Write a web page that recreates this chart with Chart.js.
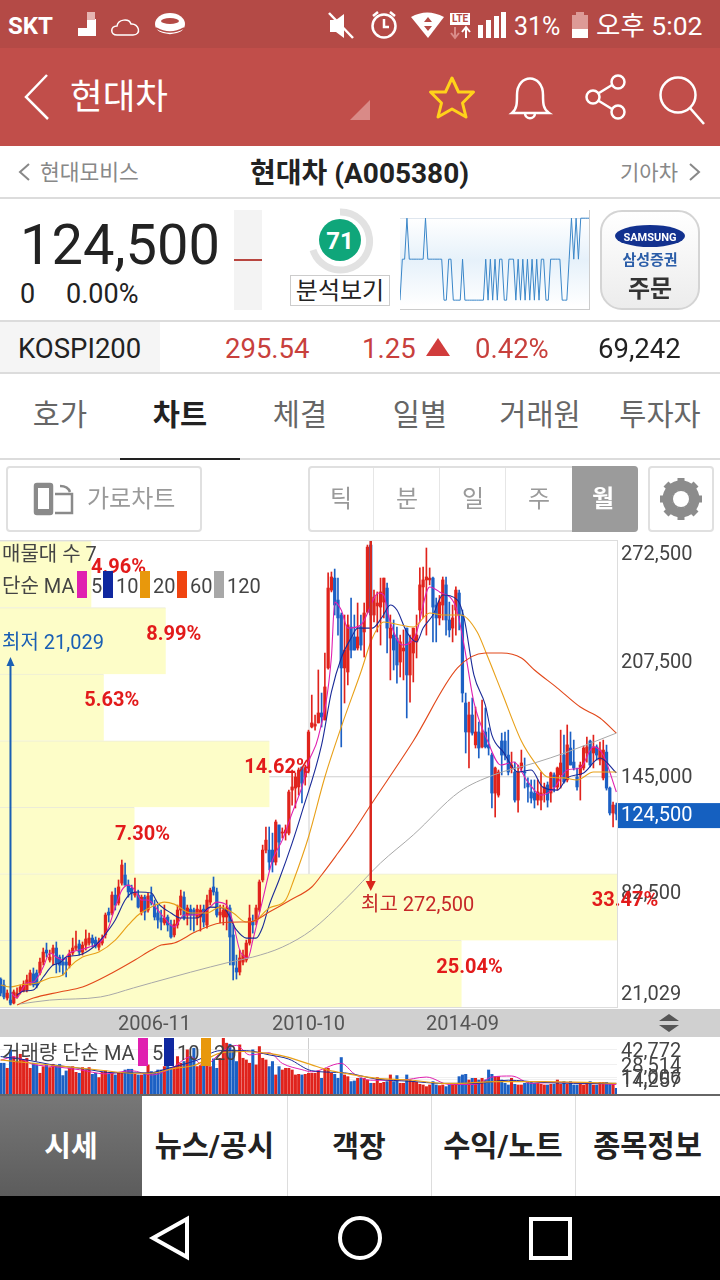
<!DOCTYPE html>
<html lang="ko">
<head>
<meta charset="utf-8">
<title>현대차 (A005380)</title>
<script src="https://cdn.jsdelivr.net/npm/chart.js@4"></script>
<style>
html,body{margin:0;padding:0;background:#fff;}
#app{position:relative;width:720px;height:1280px;overflow:hidden;background:#fff;font-family:Roboto,"Noto Sans CJK KR",sans-serif;color:#222;}
.b{position:absolute;box-sizing:border-box;}
.t{position:absolute;white-space:nowrap;transform:translateY(calc(-50% + 1px));line-height:1;}
.c{text-align:center;}
canvas{position:absolute;display:block;}
svg{position:absolute;overflow:visible;}
</style>
</head>
<body>
<div id="app">
  <!-- status bar -->
  <div class="b" style="left:0;top:0;width:720px;height:48px;background:#b44a46"></div>
  <div class="b" style="left:0;top:48px;width:720px;height:98px;background:#c14e4a"></div>
  <div class="t" style="left:8px;top:25px;font-size:24px;font-weight:700;color:#fff">SKT</div>
  <svg style="left:0;top:0" width="720" height="146" fill="none" stroke="#fff">
    <path d="M69 36h9v-8h9v-9h9v17z" fill="#fff" stroke="none"/>
    <rect x="87" y="12" width="8" height="8" fill="#e6b5b2" stroke="none"/>
    <path d="M117 35c-7 0-7-9 0-9 1-7 12-8 14-2 8-1 11 11 2 11z" stroke-width="1.5"/>
    <ellipse cx="170" cy="24" rx="15" ry="11" fill="#fff" stroke="none"/>
    <ellipse cx="170" cy="21" rx="9" ry="3" fill="#b44a46" stroke="none"/>
    <path d="M156 28q14 8 28 0M158 32q12 6 24 0" stroke="#b44a46" stroke-width="1.5"/>
    <path d="M330 20h6l8-6v24l-8-6h-6z" fill="#fff" stroke="none"/>
    <path d="M329 13l24 25" stroke-width="2.5"/>
    <circle cx="384" cy="26" r="11.5" stroke-width="2.5"/>
    <path d="M384 19v8h5M373 16l5-4M395 16l-5-4" stroke-width="2.5"/>
    <path d="M411 17q16-9 33 0l-16 21z" fill="#fff" stroke="none"/>
    <path d="M424 22l4-5 4 5zM424 26l4 5 4-5z" fill="#b44a46" stroke="none"/>
    <rect x="450" y="13" width="20" height="12" fill="#fff" stroke="none"/>
    <path d="M455 27v10M451 33l4 5 4-5" stroke="#d98b88" stroke-width="2"/>
    <path d="M466 38v-10M462 32l4-5 4 5" stroke-width="2"/>
    <path d="M478 38v-13h5v13zM486 38v-18h5v18zM494 38v-22h5v22zM501 38v-26h5v26z" fill="#fff" stroke="none"/>
    <rect x="572" y="15" width="16" height="23" fill="#dd9a97" stroke="none"/>
    <rect x="576" y="12" width="8" height="3" fill="#dd9a97" stroke="none"/>
    <rect x="572" y="29" width="16" height="9" fill="#fff" stroke="none"/>
    <!-- app bar icons -->
    <path d="M47 75L26 97l22 22" stroke-width="2.5"/>
    <path d="M350 120h20v-20z" fill="#d98a87" stroke="none"/>
    <path d="M452 78l6.500 14h15l-11 11 3.500 14-14-8-14 8 3.500-14-11-11h15z" stroke="#ffd21a" stroke-width="3" stroke-linejoin="round"/>
    <path d="M512 113c5-4 5-10 5-18 0-22 26-22 26 0 0 8 0 14 6 18zM525 113c0 7 10 7 10 0" stroke-width="2.500"/>
    <circle cx="618" cy="82" r="6.500" stroke-width="2.500"/><circle cx="593" cy="97" r="6.500" stroke-width="2.500"/><circle cx="618" cy="112" r="6.500" stroke-width="2.500"/>
    <path d="M599 93l13-8M599 101l13 8" stroke-width="2.500"/>
    <circle cx="678" cy="95" r="17.500" stroke-width="2.500"/>
    <path d="M690 108l14 16" stroke-width="2.500"/>
  </svg>
  <div class="t" style="left:450px;width:20px;text-align:center;top:18px;font-size:10px;font-weight:700;color:#b44a46">LTE</div>
  <div class="t" style="left:514px;top:25px;font-size:25px;color:#fff">31%</div>
  <div class="t" style="left:596px;top:25px;font-size:26.500px;color:#fff">오후 5:02</div>
  <div class="t" style="left:70px;top:97px;font-size:35.500px;color:#fff">현대차</div>

  <!-- stock name row -->
  <svg style="left:0;top:0" width="720" height="200" fill="none" stroke="#888" stroke-width="2">
    <path d="M29 164l-9 8 9 8M690 164l9 8-9 8"/>
  </svg>
  <div class="t" style="left:40px;top:172px;font-size:21.500px;color:#888">현대모비스</div>
  <div class="t" style="left:250px;top:173px;font-size:28px;font-weight:700;color:#222">현대차 (A005380)</div>
  <div class="t" style="left:620px;top:172px;font-size:21px;color:#888">기아차</div>
  <div class="b" style="left:0;top:197px;width:720px;height:2px;background:#dcdcdc"></div>

  <!-- price row -->
  <div class="t" style="left:20px;top:244px;font-size:56px;color:#222">124,500</div>
  <div class="t" style="left:20px;top:293px;font-size:27px;color:#222">0</div>
  <div class="t" style="left:66px;top:293px;font-size:27px;color:#222">0.00%</div>
  <div class="b" style="left:234px;top:210px;width:28px;height:100px;background:#f3f3f3"></div>
  <div class="b" style="left:234px;top:259px;width:28px;height:2px;background:#b8453f"></div>
  <svg style="left:0;top:0" width="720" height="320" fill="none">
    <path d="M340 212a29 29 0 1 1 -27 38" stroke="#e2e2e2" stroke-width="7"/>
    <circle cx="340" cy="240" r="21" fill="#0fa67a"/>
  </svg>
  <div class="t c" style="left:320px;width:40px;top:240px;font-size:24px;font-weight:700;color:#fff">71</div>
  <div class="b" style="left:290px;top:275px;width:100px;height:31px;border:1px solid #ccc"></div>
  <div class="t c" style="left:290px;width:100px;top:290px;font-size:24px;color:#222">분석보기</div>
  <canvas id="sparkChart" width="190" height="100" style="left:400px;top:210px;width:190px;height:100px;background:linear-gradient(#fff 8%,#e6f1fa 50%,#fff 96%)"></canvas>
  <div class="b" style="left:400px;top:210px;width:190px;height:100px;border-right:1px solid #ccc;border-bottom:1px solid #ccc"></div>
  <div class="b" style="left:600px;top:210px;width:100px;height:100px;border:2px solid #d4d4d4;border-radius:22px;background:linear-gradient(#fff,#ececec)"></div>
  <svg style="left:0;top:0" width="720" height="320"><ellipse cx="650" cy="236" rx="35" ry="11" fill="#12318f"/></svg>
  <div class="t c" style="left:600px;width:100px;top:236px;font-size:11px;font-weight:700;color:#fff">SAMSUNG</div>
  <div class="t c" style="left:600px;width:100px;top:259px;font-size:15px;font-weight:700;color:#2a5da8">삼성증권</div>
  <div class="t c" style="left:600px;width:100px;top:288px;font-size:24px;font-weight:700;color:#333">주문</div>

  <!-- index row -->
  <div class="b" style="left:0;top:320px;width:720px;height:2px;background:#dcdcdc"></div>
  <div class="b" style="left:0;top:322px;width:160px;height:50px;background:#f5f5f5"></div>
  <div class="b" style="left:0;top:372px;width:720px;height:2px;background:#dcdcdc"></div>
  <div class="t" style="left:18px;top:348px;font-size:27.500px;color:#222">KOSPI200</div>
  <div class="t" style="left:225px;top:348px;font-size:27.500px;color:#c8403c">295.54</div>
  <div class="t" style="left:362px;top:348px;font-size:27.500px;color:#c8403c">1.25</div>
  <svg style="left:0;top:0" width="720" height="380"><path d="M426 356l12-18 12 18z" fill="#d13c3c"/></svg>
  <div class="t" style="left:475px;top:348px;font-size:27.500px;color:#c8403c">0.42%</div>
  <div class="t" style="left:598px;top:348px;font-size:27.500px;color:#222">69,242</div>

  <!-- tabs -->
  <div class="t c" style="left:0;width:120px;top:415px;font-size:29.500px;color:#666">호가</div>
  <div class="t c" style="left:120px;width:120px;top:415px;font-size:29.500px;font-weight:700;color:#222">차트</div>
  <div class="t c" style="left:240px;width:120px;top:415px;font-size:29.500px;color:#666">체결</div>
  <div class="t c" style="left:360px;width:120px;top:415px;font-size:29.500px;color:#666">일별</div>
  <div class="t c" style="left:480px;width:120px;top:415px;font-size:29.500px;color:#666">거래원</div>
  <div class="t c" style="left:600px;width:120px;top:415px;font-size:29.500px;color:#666">투자자</div>
  <div class="b" style="left:0;top:458px;width:720px;height:2px;background:#dcdcdc"></div>
  <div class="b" style="left:120px;top:458px;width:120px;height:2px;background:#222"></div>

  <!-- chart toolbar -->
  <div class="b" style="left:6px;top:466px;width:196px;height:66px;border:2px solid #e0e0e0;border-radius:4px"></div>
  <svg style="left:0;top:0" width="720" height="540" fill="none" stroke="#8a8a8a" stroke-width="2.500">
    <rect x="35" y="484" width="17" height="30" rx="2" fill="#8a8a8a"/>
    <rect x="38" y="488" width="11" height="21" fill="#fff" stroke="none"/>
    <path d="M55 494h17v19H55M60 486q8 0 10 6"/>
  </svg>
  <div class="t" style="left:87px;top:498px;font-size:24px;color:#9a9a9a">가로차트</div>
  <div class="b" style="left:308px;top:466px;width:330px;height:66px;border:2px solid #e0e0e0;border-radius:4px"></div>
  <div class="b" style="left:373px;top:468px;width:1px;height:62px;background:#e6e6e6"></div>
  <div class="b" style="left:439px;top:468px;width:1px;height:62px;background:#e6e6e6"></div>
  <div class="b" style="left:505px;top:468px;width:1px;height:62px;background:#e6e6e6"></div>
  <div class="b" style="left:572px;top:466px;width:66px;height:66px;background:#9b9b9b;border-radius:0 4px 4px 0"></div>
  <div class="t c" style="left:308px;width:66px;top:498px;font-size:24px;color:#9a9a9a">틱</div>
  <div class="t c" style="left:374px;width:66px;top:498px;font-size:24px;color:#9a9a9a">분</div>
  <div class="t c" style="left:440px;width:66px;top:498px;font-size:24px;color:#9a9a9a">일</div>
  <div class="t c" style="left:506px;width:66px;top:498px;font-size:24px;color:#9a9a9a">주</div>
  <div class="t c" style="left:570px;width:66px;top:498px;font-size:24px;font-weight:700;color:#fff">월</div>
  <div class="b" style="left:648px;top:466px;width:66px;height:66px;border:2px solid #e0e0e0;border-radius:4px"></div>
  <svg style="left:0;top:0" width="720" height="540">
    <circle cx="681" cy="499" r="14" fill="none" stroke="#8c8c8c" stroke-width="9"/>
    <path d="M681 478v42M660 499h42M666 484l30 30M696 484l-30 30" stroke="#8c8c8c" stroke-width="7"/>
    <circle cx="681" cy="499" r="8" fill="#fff"/>
  </svg>

  <!-- chart panels -->
  <div class="b" style="left:0;top:1009px;width:720px;height:28px;background:#d0d0d0"></div>
  <canvas id="profileChart" width="617" height="466" style="left:0;top:541px;width:617px;height:466px"></canvas>
  <canvas id="priceChart" width="720" height="510" style="left:0;top:530px;width:720px;height:510px"></canvas>
  <canvas id="volumeChart" width="720" height="57" style="left:0;top:1038px;width:720px;height:57px"></canvas>
  <div class="b" style="left:0;top:540px;width:618px;height:468px;border-top:1px solid #ddd;border-right:1px solid #ddd;border-bottom:1px solid #ddd"></div>
  <svg style="left:0;top:0" width="720" height="1040"><path d="M659 1021l10-7 10 7zM659 1025l10 7 10-7z" fill="#555"/></svg>

  <!-- legends -->
  <div class="t" style="left:2px;top:553px;font-size:20px;color:#444">매물대 수 7</div>
  <div class="t" style="left:2px;top:585px;font-size:20px;color:#444">단순 MA</div>
  <div class="b" style="left:77px;top:571px;width:10px;height:27px;background:#e020b0"></div>
  <div class="t" style="left:91px;top:585px;font-size:20px;color:#444">5</div>
  <div class="b" style="left:103px;top:571px;width:10px;height:27px;background:#1028a0"></div>
  <div class="t" style="left:116px;top:585px;font-size:20px;color:#444">10</div>
  <div class="b" style="left:140px;top:571px;width:10px;height:27px;background:#e8980c"></div>
  <div class="t" style="left:153px;top:585px;font-size:20px;color:#444">20</div>
  <div class="b" style="left:177px;top:571px;width:10px;height:27px;background:#f04410"></div>
  <div class="t" style="left:190px;top:585px;font-size:20px;color:#444">60</div>
  <div class="b" style="left:214px;top:571px;width:10px;height:27px;background:#a8a8a8"></div>
  <div class="t" style="left:227px;top:585px;font-size:20px;color:#444">120</div>
  <div class="t" style="left:2px;top:1052px;font-size:20px;color:#444">거래량 단순 MA</div>
  <div class="b" style="left:138px;top:1038px;width:10px;height:28px;background:#e020b0"></div>
  <div class="t" style="left:152px;top:1052px;font-size:20px;color:#444">5</div>
  <div class="b" style="left:164px;top:1038px;width:10px;height:28px;background:#1028a0"></div>
  <div class="t" style="left:177px;top:1052px;font-size:20px;color:#444">10</div>
  <div class="b" style="left:201px;top:1038px;width:10px;height:28px;background:#e8980c"></div>
  <div class="t" style="left:214px;top:1052px;font-size:20px;color:#444">20</div>

  <!-- bottom tabs and nav -->
  <div class="b" style="left:0;top:1094px;width:720px;height:2px;background:#666"></div>
  <div class="b" style="left:0;top:1096px;width:142px;height:100px;background:linear-gradient(#777,#5c5c5c)"></div>
  <div class="b" style="left:287px;top:1096px;width:1px;height:100px;background:#ddd"></div>
  <div class="b" style="left:431px;top:1096px;width:1px;height:100px;background:#ddd"></div>
  <div class="b" style="left:575px;top:1096px;width:1px;height:100px;background:#ddd"></div>
  <div class="t c" style="left:0;width:142px;top:1146px;font-size:29px;font-weight:700;color:#fff">시세</div>
  <div class="t c" style="left:142px;width:145px;top:1146px;font-size:29.500px;font-weight:700;color:#222">뉴스/공시</div>
  <div class="t c" style="left:287px;width:144px;top:1146px;font-size:29px;font-weight:700;color:#222">객장</div>
  <div class="t c" style="left:431px;width:144px;top:1146px;font-size:29.500px;font-weight:700;color:#222">수익/노트</div>
  <div class="t c" style="left:575px;width:145px;top:1146px;font-size:29.500px;font-weight:700;color:#222">종목정보</div>
  <div class="b" style="left:0;top:1196px;width:720px;height:84px;background:#000"></div>
  <svg style="left:0;top:0" width="720" height="1280" fill="none" stroke="#fff" stroke-width="4">
    <path d="M187 1219v38l-34-19z"/>
    <circle cx="360" cy="1238" r="20"/>
    <rect x="531" y="1219" width="39" height="39"/>
  </svg>
</div>

<script>
// monthly candles, prices in thousand won
const opens = [
  35.1,31.9,24.8,23.7,22.1,25.9,28.1,28.6,29.2,31.9,
  37.9,38.4,38.4,44.3,50.8,45.4,49.2,51.9,47.0,44.3,
  44.3,42.7,49.2,51.9,54.1,49.7,53.5,54.6,57.3,56.2,
  52.4,54.6,59.0,71.4,70.9,80.6,76.3,87.1,91.5,86.0,
  84.4,80.6,80.6,71.4,79.5,72.5,80.6,75.2,70.9,68.2,
  65.5,68.7,64.4,59.0,64.4,72.5,79.5,69.8,73.0,72.5,
  68.2,68.7,73.0,64.4,76.8,85.0,82.3,69.8,68.7,68.7,
  73.6,59.0,41.1,38.9,44.3,45.4,54.6,66.0,67.1,72.5,
  88.8,105.0,105.0,105.0,98.5,118.6,114.2,114.2,114.2,137.5,
  138.6,139.2,150.0,144.6,149.5,171.7,172.2,173.9,179.3,175.5,
  203.7,245.9,252.4,240.5,232.4,203.7,201.5,225.9,220.5,214.5,
  225.9,223.2,234.0,270.3,232.4,237.3,236.7,239.4,247.0,219.9,
  221.5,219.9,206.9,212.9,225.3,199.9,211.8,217.8,235.1,247.6,
  251.4,251.4,252.4,237.8,230.8,237.8,248.7,229.7,225.3,235.1,
  244.3,232.4,184.7,169.0,178.2,162.0,169.0,160.9,169.0,162.0,
  156.5,135.9,134.8,164.1,164.1,156.5,149.5,147.3,132.1,149.5,
  147.3,141.3,136.5,135.9,132.1,132.1,135.9,140.3,135.9,145.7,
  139.2,145.7,156.5,143.0,160.3,152.7,144.6,145.7,149.5,157.6,
  164.1,157.6,160.9,153.8,144.1,158.1,138.6,125.1,129.4
];
const highs = [
  35.7,34.6,29.2,26.5,29.2,30.3,31.9,34.1,37.3,40.0,
  41.1,40.0,46.5,51.9,54.6,50.8,53.5,55.2,48.1,48.1,
  46.5,50.8,57.3,61.1,56.2,55.2,61.7,60.0,59.0,57.9,
  57.3,59.0,70.9,73.6,82.3,84.4,88.8,99.6,98.0,88.8,
  86.0,89.8,83.3,80.6,80.6,81.7,85.0,77.9,75.2,72.5,
  75.2,69.8,67.1,67.1,75.2,83.3,82.3,75.2,75.2,73.6,
  75.2,75.2,75.2,80.6,84.4,90.4,84.4,75.2,75.2,77.9,
  75.2,64.4,48.1,50.8,50.8,56.2,75.2,69.8,75.2,88.8,
  107.7,117.5,117.5,114.2,121.3,118.6,117.0,118.6,137.5,148.4,
  146.8,149.5,150.0,151.1,170.0,189.0,178.2,202.6,190.1,211.8,
  255.2,255.7,257.3,252.4,233.5,232.4,232.4,241.6,232.4,238.9,
  232.4,238.9,270.3,272.5,245.9,244.9,252.4,252.4,249.7,232.4,
  229.7,225.9,221.5,224.3,225.3,221.5,225.3,232.4,257.9,258.4,
  268.7,257.9,253.0,241.6,243.0,253.0,253.0,239.4,237.8,247.6,
  245.9,235.1,190.1,185.2,187.4,182.5,174.4,186.3,182.0,171.2,
  157.6,150.0,148.4,168.4,169.0,170.0,158.1,152.7,151.1,159.2,
  154.9,144.1,143.0,143.0,143.0,147.3,141.3,141.9,147.3,146.8,
  150.0,170.0,167.3,172.8,169.0,164.6,149.5,152.7,161.4,166.3,
  164.6,167.3,162.0,163.5,164.6,161.9,139.2,131.0,130.5
];
const lows = [
  25.9,24.3,23.7,21.03,21.6,24.8,27.0,28.1,28.1,31.9,
  30.8,30.3,37.3,42.7,47.0,44.3,42.7,38.4,38.9,37.3,
  36.2,41.1,48.1,50.8,48.1,48.1,50.8,53.5,52.4,51.9,
  50.8,53.5,57.3,66.0,69.8,72.5,75.2,86.0,86.0,79.5,
  77.9,79.5,73.6,69.8,67.1,71.4,75.2,67.1,62.7,61.7,
  64.4,61.1,57.3,57.9,62.7,69.8,67.1,64.4,61.7,61.1,
  64.4,61.1,63.3,62.7,75.2,80.6,68.7,65.5,64.4,61.7,
  42.7,34.6,35.1,37.3,42.7,44.3,53.5,60.0,64.4,71.4,
  87.7,103.4,94.2,93.1,96.9,101.2,111.5,110.4,113.2,129.4,
  127.8,134.8,130.5,140.2,146.8,171.2,170.0,173.9,171.7,175.5,
  203.1,244.9,232.4,221.5,160.9,184.7,194.5,209.1,213.4,213.4,
  213.4,209.6,233.5,229.7,228.6,223.2,216.1,230.8,211.8,197.2,
  202.6,195.5,198.8,197.2,176.6,185.2,196.1,209.1,228.6,230.8,
  221.5,248.7,217.8,217.8,227.0,229.7,221.5,220.5,217.8,221.5,
  224.3,185.2,157.6,149.5,167.3,160.3,154.9,160.3,160.3,156.5,
  127.8,122.9,133.7,145.7,153.8,145.7,146.8,131.0,125.6,147.3,
  138.6,131.0,130.5,127.8,129.4,126.7,131.0,128.3,131.0,136.5,
  137.5,138.6,141.3,141.9,151.1,148.4,137.5,132.1,148.4,152.7,
  150.0,149.5,153.8,151.1,143.0,137.5,124.0,117.5,121.3
];
const closes = [
  27.5,25.4,27.5,22.1,28.1,27.5,30.8,32.4,34.6,38.4,
  31.9,31.9,44.3,49.7,49.2,47.0,51.9,43.8,42.7,42.7,
  42.7,48.7,51.9,53.0,49.7,53.5,56.8,57.3,54.6,53.0,
  55.2,56.8,69.8,69.8,80.6,75.2,85.0,96.9,86.0,82.3,
  81.7,81.7,74.1,79.5,71.4,80.1,76.3,68.7,67.1,66.0,
  68.2,64.4,57.9,64.9,72.5,80.1,68.2,73.6,69.8,69.8,
  73.0,72.5,66.0,77.9,83.3,82.3,69.8,71.4,72.5,73.6,
  57.9,42.7,38.9,46.5,48.1,54.6,68.2,64.4,73.6,87.7,
  105.0,110.4,98.5,98.5,120.2,109.3,114.8,115.9,136.5,139.2,
  144.6,148.4,141.3,148.4,169.0,173.9,173.3,179.3,177.1,193.4,
  247.0,253.0,237.8,230.8,203.7,213.4,227.0,213.4,213.4,220.5,
  216.1,233.5,269.2,232.4,242.1,238.9,244.9,252.4,225.3,225.3,
  213.4,205.3,217.8,214.5,199.9,217.8,225.3,221.5,248.7,251.4,
  253.0,252.4,236.7,230.8,239.4,251.4,229.7,224.3,230.8,245.9,
  232.4,190.1,169.0,178.2,168.4,169.0,160.3,168.4,160.9,160.3,
  135.9,149.5,147.3,156.5,156.5,147.3,151.1,132.1,147.3,152.2,
  146.8,139.2,133.2,132.1,136.5,135.9,139.2,132.1,146.8,139.2,
  149.5,152.2,141.9,162.0,151.1,149.5,139.2,151.1,160.3,160.9,
  151.1,160.9,156.5,159.2,159.2,138.6,125.1,129.4,124.5
];

// moving averages, read at a few spots along each line
const ma5Index = [3,5,6,8,10,13,15,17,19,21,24,27,31,33,35,37,39,41,43,45,48,50,53,56,59,63,66,69,71,73,75.5,77,80,83,86,89,92,94,97,101,102,104,106,110,115.5,117,118.5,122.7,126.7,131,134,139,141.5,144.5,148.7,152.7,156.7,161,165,169,173,177,181,184,188];
const ma5Values = [28.1,24.8,27.5,33,33.5,41.6,49.2,47,45.4,49.2,50.8,52.4,56.2,63.3,74.1,83.3,86,83.3,77.9,77.9,72.5,68.2,63.3,69.8,69.8,72.5,76.8,75.2,65.5,50.8,46.5,56.2,77.9,99.6,110.4,125,139.2,152.7,166.3,209.6,239.4,235.1,225.3,227,244.3,243.2,231.3,216.1,221.5,247.6,244.9,236.7,216.1,185.2,164.1,151.1,152.7,141.9,134.8,138.6,148.4,149.5,160.9,156.5,136.5];
const ma10Index = [5,7,10,13,16,18,20,24,28,31,35,38,40,42,46,48,52,55,60,64,68,72,75,78,80,82,85,89,92,98,101,104,107,109,113.5,116.5,119,121,124,127,129,132,135,139.5,141.5,144.5,148,150,153.5,158,162,165.5,170,173,178,183,188];
const ma10Values = [26.5,28.6,29.2,36.2,42.7,43.8,47,48.1,51.9,57.3,67.1,77.9,81.7,82.3,81.7,76.3,70.9,68.2,68.2,74.1,73.6,61.7,57.3,57.3,63.3,75.2,88.8,108.8,125.6,162,190.7,209.1,219.9,225.3,225.3,231.3,237.8,235.1,223.2,217.8,225.3,232.4,243.2,240.5,230.8,199.9,183.6,167.3,158.1,147.3,148.4,139.2,137.5,144.1,146.8,154.9,146.8];
const ma20Index = [0,3,6,11,15,19,21,25,30,35,39,42,46,50,53,58,63,67,71,75,78,82,87,89.5,94,99,104,110,113.5,117,122,126,131,135,140.5,145.5,148.5,153,159,163,167,172,176,181,188];
const ma20Values = [31.9,30.8,31.9,33,35.7,37.3,41.6,47,49.7,56.2,64.4,69.8,74.1,76.8,75.7,70.9,70.9,74.1,70.9,66,67.1,73.6,77.9,88.8,112.1,144.6,171.7,201.5,219.9,228.6,227,225.9,233.5,232.4,232.4,223.2,210.7,190.7,164.1,152.7,144.6,144.1,143,147.3,147.3];
const ma60Index = [5,10,18,25,34,41,46,49,53,60,67,73,76,82,88.5,95,98,103,107,113,126,139.5,148,153,159,163,170,177,183,188];
const ma60Values = [21.03,24.8,28.1,30.8,38.4,45.4,50.8,53.5,54.6,61.1,65.5,66,66,71.4,77.9,85,91.5,103.4,113.2,129.4,164.1,203.7,211.8,211.8,209.1,202.6,192.8,182.5,176.6,168.4];
const ma120Index = [6,15,30.5,40.6,46,70,77,86,95,105,116,126,140,150.5,163,173,188];
const ma120Values = [21.6,23.7,25.4,30.3,33,44.3,47,52.4,61.7,77.9,98,113.2,136.5,145.7,152.2,158.1,168.4];

// volume in thousand shares
const volumes = [
  30.1,30.1,25.3,42.8,36.4,31.7,38.6,33.2,34.8,25.3,
  30.1,28.5,20.6,26.9,28.5,26,29.1,27.9,29.1,18.4,
  22.8,25.3,26.9,21.5,20.6,26,23.7,26,19.6,20.6,
  16.5,21.5,22.8,19.6,20.6,19,20.6,21.5,23.7,24.4,
  24.4,19.6,19,19,20.6,28.5,22.2,21.5,23.7,23.7,
  26.9,27.9,26,26.9,36.4,30.1,31.7,42.8,36.4,44.3,
  26.9,27.9,28.5,32.3,26.9,34.2,25.3,34.8,54.5,49.1,
  48.1,42.8,31.7,47.5,34.8,33.2,30.1,42.8,28.5,45.9,
  34.8,33.2,26.9,31.7,19,26.9,23.7,25.3,25.3,23.7,
  19,19.6,19,19.6,20.6,
  20.6,20.6,22.8,15.8,25.3,25.3,20.6,19.6,15.8,35.5,
  19,17.4,12.7,13.3,15.8,15.8,15.8,14.2,11.1,11.1,
  16.5,11.1,12,12.7,19,12.7,18.4,11.1,11.1,19,
  14.2,12.7,12,10.1,9.5,7.9,9.5,12.7,9.5,8.9,
  9.5,7.9,9.5,9.5,10.1,17.4,19,19.6,14.2,15.8,
  15.8,14.2,15.8,14.2,23.7,19.6,17.4,17.4,14.2,11.1,
  9.5,15.8,10.1,9.5,9.5,11.1,12.7,12,11.1,11.1,
  10.1,9.5,9.5,10.1,10.1,14.2,10.1,12.7,10.1,12.7,
  9.5,9.5,10.1,9.5,11.1,12.7,9.5,9.5,12,12,12,10.1,10.1,6.3
];
const volMa5Index = [0,4,10,16,24,32,40,46,52,58,62,68,72,76,82,86,92,95,104,108,113,122,130,137,145,150,156,162,170,180,188];
const volMa5Values = [33,36,29,27,24,20,23,19,25,36,28,42,47,38,40,30,24,22,30,20,14,14,17,10,10,17,18,11,12,11,10];
const volMa10Index = [0,8,15,25,35,45,52,60,67,75,82,88,95,105,115,125,135,145,155,165,175,188];
const volMa10Values = [36.4,33.2,29,25,21,21,26,33,42,42,38,34,23,21,15,13,11,11,14,12,11,11];
const volMa20Index = [0,10,20,30,41,46,53,59,67,74,81,87,95,100,105,115,125,135,140.5,151,166,188];
const volMa20Values = [33.2,30.1,26.9,23.7,20.6,20.6,25.3,27.9,39.6,41.2,39.6,36.4,28.5,23.7,20.6,15.8,14.2,11.1,11.1,12.7,12.7,11.1];

// volume profile, top band first
const profileBands = ['272,500','236,600','200,700','164,800','128,900','93,000','57,000'];
const profilePercents = [4.96,8.99,5.63,14.62,7.30,33.47,25.04];

const xTickIndex = [47,94,141];
const xTickLabels = ['2006-11','2010-10','2014-09'];
const yTickValues = [21.029,82.5,124.5,145,207.5,272.5];
const yTickLabels = ['21,029','82,500','124,500','145,000','207,500','272,500'];
const volTickValues = [14.257,17.006,28.514,42.772];
const volTickLabels = ['14,257','17,006','28,514','42,772'];

// intraday sparkline levels in the header
const sparkLevels = [0,1,1,2,1,1,1,1,1,1,1,2,1,1,1,1,1,1,1,0,0,1,1,0,0,0,0,1,0,0,0,0,0,0,0,0,0,1,0,1,0,1,0,1,1,0,0,1,1,1,0,1,0,1,0,1,0,1,0,1,0,1,1,0,0,1,1,1,1,1,0,0,0,1,2,1,2,1,2,2,2,2,2];

const RED = '#e0231c';
const BLUE = '#1c60c4';
const candleColors = closes.map((c, i) => c >= opens[i] ? RED : BLUE);
const xMax = 188.2;
const xMin = -0.2;

function toPoints(xs, ys) {
  return xs.map((x, i) => ({ x: x, y: ys[i] }));
}

function maLine(xs, ys, color, width) {
  return {
    type: 'line',
    data: toPoints(xs, ys),
    borderColor: color,
    borderWidth: width,
    pointRadius: 0,
    cubicInterpolationMode: 'monotone',
    order: 1
  };
}

function fitY(width) {
  return s => {
    s.width = width;
    s.paddingTop = 0;
    s.paddingBottom = 0;
  };
}

function fitX(height) {
  return s => {
    s.height = height;
    s.paddingLeft = 0;
    s.paddingRight = 0;
  };
}

Chart.defaults.font.family = 'Roboto, "Noto Sans CJK KR", sans-serif';
Chart.defaults.animation = false;
Chart.defaults.responsive = false;
Chart.defaults.devicePixelRatio = 1;
Chart.defaults.plugins.legend.display = false;
Chart.defaults.plugins.tooltip.enabled = false;

let priceChart = null;

// grid sits under the yellow profile bars, so only the uncovered part shows
const gridUnderBars = {
  id: 'gridUnderBars',
  beforeDatasetsDraw(chart) {
    if (!priceChart) return;
    const ctx = chart.ctx;
    const x = priceChart.scales.x.getPixelForValue(xTickIndex[1]);
    const y = priceChart.scales.y.getPixelForValue(145) - 11;
    ctx.save();
    ctx.strokeStyle = '#cfcfcf';
    ctx.lineWidth = 1;
    ctx.beginPath();
    ctx.moveTo(x + 0.5, 0);
    ctx.lineTo(x + 0.5, chart.height);
    ctx.moveTo(0, y + 0.5);
    ctx.lineTo(chart.width, y + 0.5);
    ctx.stroke();
    ctx.restore();
  }
};

const profileChart = new Chart(document.getElementById('profileChart'), {
  type: 'bar',
  data: {
    labels: profileBands,
    datasets: [{
      data: profilePercents,
      backgroundColor: '#fdfdc8',
      borderColor: '#ececd8',
      borderWidth: { top: 1, bottom: 0, left: 0, right: 0 },
      borderSkipped: false,
      barPercentage: 1,
      categoryPercentage: 1
    }]
  },
  options: {
    indexAxis: 'y',
    layout: { padding: 0 },
    scales: {
      x: { display: false, min: 0, max: 33.47 },
      y: { display: false }
    }
  },
  plugins: [gridUnderBars]
});

// last price box behind the tick label
const lastPriceBox = {
  id: 'lastPriceBox',
  beforeDraw(chart) {
    const y = chart.scales.y.getPixelForValue(124.5);
    chart.ctx.fillStyle = '#1560c0';
    chart.ctx.fillRect(chart.chartArea.right + 1, y - 11, 103, 25);
  }
};

// profile percents and the high / low arrows
const chartNotes = {
  id: 'chartNotes',
  afterDatasetsDraw(chart) {
    const ctx = chart.ctx;
    const sx = chart.scales.x;
    const sy = chart.scales.y;
    ctx.save();

    ctx.font = '700 20px Roboto, sans-serif';
    ctx.fillStyle = '#e21b1b';
    ctx.textBaseline = 'middle';
    ctx.textAlign = 'center';
    const bandH = chart.chartArea.height / profilePercents.length;
    profilePercents.forEach((p, i) => {
      const end = profileChart.scales.x.getPixelForValue(p);
      const x = i === 0 ? end + 27 : end + 8;
      ctx.fillText(p.toFixed(2) + '%', x, chart.chartArea.top + bandH * (i + 0.5) - 6);
    });
    ctx.textAlign = 'left';

    const lowX = sx.getPixelForValue(3);
    const lowY = sy.getPixelForValue(21.029);
    ctx.strokeStyle = ctx.fillStyle = '#1a5fb4';
    ctx.lineWidth = 2;
    ctx.beginPath();
    ctx.moveTo(lowX, lowY);
    ctx.lineTo(lowX, 130);
    ctx.stroke();
    ctx.beginPath();
    ctx.moveTo(lowX, 127);
    ctx.lineTo(lowX - 4, 136);
    ctx.lineTo(lowX + 4, 136);
    ctx.fill();
    ctx.font = '20px Roboto, "Noto Sans CJK KR", sans-serif';
    ctx.fillText('최저 21,029', 2, 114);

    const highX = sx.getPixelForValue(113);
    const highY = sy.getPixelForValue(272.5);
    ctx.strokeStyle = ctx.fillStyle = '#d9261c';
    ctx.lineWidth = 2.5;
    ctx.beginPath();
    ctx.moveTo(highX, highY);
    ctx.lineTo(highX, 352);
    ctx.stroke();
    ctx.beginPath();
    ctx.moveTo(highX, 361);
    ctx.lineTo(highX - 5, 351);
    ctx.lineTo(highX + 5, 351);
    ctx.fill();
    ctx.fillStyle = '#c62828';
    ctx.fillText('최고 272,500', 361, 376);
    ctx.restore();
  }
};

priceChart = new Chart(document.getElementById('priceChart'), {
  type: 'bar',
  data: {
    datasets: [
      maLine(ma120Index, ma120Values, '#a8a8a8', 1),
      maLine(ma60Index, ma60Values, '#e2481a', 1.1),
      maLine(ma20Index, ma20Values, '#e8a018', 1.1),
      maLine(ma10Index, ma10Values, '#1a2a98', 1.1),
      maLine(ma5Index, ma5Values, '#e020b0', 1.1),
      {
        data: opens.map((o, i) => ({ x: i, y: [o, closes[i]] })),
        backgroundColor: candleColors,
        barThickness: 2.6,
        grouped: false,
        order: 2
      },
      {
        data: lows.map((l, i) => ({ x: i, y: [l, highs[i]] })),
        backgroundColor: candleColors,
        barThickness: 1,
        grouped: false,
        order: 3
      }
    ]
  },
  options: {
    layout: { padding: { top: 11, left: 0, right: 0, bottom: 0 } },
    scales: {
      x: {
        type: 'linear',
        offset: false,
        min: xMin,
        max: xMax,
        grid: { display: false, drawTicks: false },
        border: { display: false },
        afterBuildTicks: s => { s.ticks = xTickIndex.map(v => ({ value: v })); },
        afterFit: fitX(33),
        ticks: {
          autoSkip: false,
          maxRotation: 0,
          padding: 6,
          color: '#555',
          font: { size: 20 },
          callback: (v, i) => xTickLabels[i]
        }
      },
      y: {
        position: 'right',
        min: 19.95,
        max: 272.5,
        grid: { display: false, drawTicks: false },
        border: { display: false },
        afterBuildTicks: s => { s.ticks = yTickValues.map(v => ({ value: v })); },
        afterFit: fitY(103),
        ticks: {
          autoSkip: false,
          padding: 4,
          labelOffset: 2,
          font: { size: 20 },
          color: ctx => ctx.tick.value === 124.5 ? '#fff' : '#444',
          // the two edge labels sit inside the panel, the blank line pushes them in
          callback: (v, i) => {
            const label = yTickLabels[i];
            if (i === yTickLabels.length - 1) return ['', label];
            if (i === 0) return [label, ''];
            return label;
          }
        }
      }
    }
  },
  plugins: [lastPriceBox, chartNotes]
});
profileChart.draw();

new Chart(document.getElementById('volumeChart'), {
  type: 'bar',
  data: {
    datasets: [
      maLine(volMa20Index, volMa20Values, '#e8a018', 1.2),
      maLine(volMa10Index, volMa10Values, '#1a2a98', 1),
      maLine(volMa5Index, volMa5Values, '#e020b0', 1),
      {
        data: volumes.map((v, i) => ({ x: i, y: v })),
        backgroundColor: candleColors,
        barThickness: 2.4,
        grouped: false,
        order: 2
      }
    ]
  },
  options: {
    layout: { padding: 0 },
    scales: {
      x: {
        type: 'linear',
        offset: false,
        min: xMin,
        max: xMax,
        ticks: { display: false },
        border: { display: false },
        grid: { color: '#cfcfcf', drawTicks: false, offset: false },
        afterBuildTicks: s => { s.ticks = [{ value: xTickIndex[1] }]; },
        afterFit: fitX(0)
      },
      y: {
        position: 'right',
        min: 0,
        max: 54,
        grid: { color: '#f0f0f0', drawTicks: false },
        border: { display: false },
        afterBuildTicks: s => { s.ticks = volTickValues.map(v => ({ value: v })); },
        afterFit: fitY(103),
        ticks: {
          autoSkip: false,
          padding: 4,
          labelOffset: 2,
          color: '#444',
          font: { size: 20 },
          callback: (v, i) => volTickLabels[i]
        }
      }
    }
  }
});

new Chart(document.getElementById('sparkChart'), {
  type: 'line',
  data: {
    labels: sparkLevels.map((v, i) => i),
    datasets: [{
      data: sparkLevels,
      borderColor: '#3a86c8',
      borderWidth: 1,
      pointRadius: 0,
      tension: 0
    }]
  },
  options: {
    layout: { padding: 0 },
    scales: {
      x: { display: false, offset: false },
      y: {
        display: true,
        min: -0.24,
        max: 2.2,
        border: { display: false },
        grid: { color: '#dfe6ee', drawTicks: false },
        ticks: { display: false },
        afterBuildTicks: s => { s.ticks = [{ value: 2 }]; },
        afterFit: fitY(0)
      }
    }
  }
});
</script>
</body>
</html>
